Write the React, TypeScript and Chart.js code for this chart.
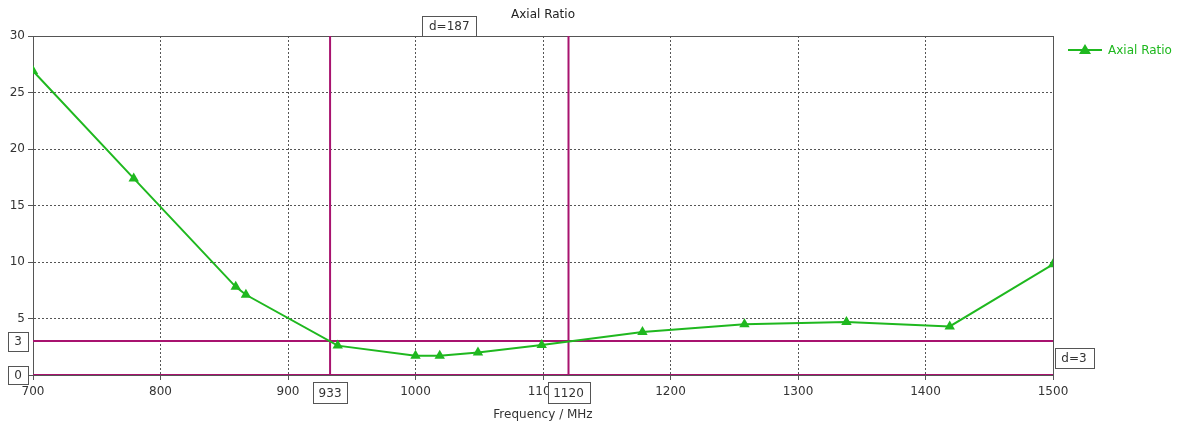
import React, { useEffect, useRef } from "react";
import { Chart, registerables } from "chart.js";

Chart.register(...registerables);

const frequency = [700, 779, 859, 867, 939, 1000, 1019, 1049, 1099, 1178, 1258, 1338, 1419, 1500];
const axialRatio = [26.9, 17.4, 7.8, 7.1, 2.6, 1.7, 1.7, 2.0, 2.65, 3.8, 4.5, 4.7, 4.3, 9.8];
const markerX = [933, 1120];
const markerY = [3, 0];
const xTicks = [700, 800, 900, 1000, 1100, 1200, 1300, 1400, 1500];
const yTicks = [0, 5, 10, 15, 20, 25, 30];

const GREEN = "#1FB81F";
const MAGENTA = "#A8136F";
const FONT = "DejaVu Sans";

function box(ctx: CanvasRenderingContext2D, cx: number, cy: number, text: string, w: number, h: number) {
  ctx.save();
  ctx.fillStyle = "#ffffff";
  ctx.fillRect(Math.round(cx - w / 2) + 0.5, Math.round(cy - h / 2) + 0.5, w, h);
  ctx.strokeStyle = "#555555";
  ctx.lineWidth = 1;
  ctx.strokeRect(Math.round(cx - w / 2) + 0.5, Math.round(cy - h / 2) + 0.5, w, h);
  ctx.fillStyle = "#333333";
  ctx.font = `12px "${FONT}"`;
  ctx.textAlign = "center";
  ctx.textBaseline = "middle";
  ctx.fillText(text, cx, cy + 1);
  ctx.restore();
}

const overlay = {
  id: "overlay",
  beforeDatasetsDraw(chart: any) {
    const { ctx, chartArea } = chart;
    ctx.save();
    ctx.strokeStyle = "#555555";
    ctx.lineWidth = 1;
    ctx.beginPath();
    ctx.moveTo(chartArea.left + 0.5, Math.round(chartArea.top) + 0.5);
    ctx.lineTo(Math.round(chartArea.right) + 0.5, Math.round(chartArea.top) + 0.5);
    ctx.lineTo(Math.round(chartArea.right) + 0.5, chartArea.bottom);
    ctx.stroke();
    ctx.beginPath();
    ctx.moveTo(Math.round(chartArea.left) + 0.5, chartArea.top);
    ctx.lineTo(Math.round(chartArea.left) + 0.5, chartArea.bottom);
    ctx.stroke();
    ctx.restore();
  },
  afterDraw(chart: any) {
    const { ctx, chartArea } = chart;
    const xs = chart.scales.x;
    const ys = chart.scales.y;
    ctx.save();
    // title
    ctx.fillStyle = "#222222";
    ctx.font = `12px "${FONT}"`;
    ctx.textAlign = "center";
    ctx.textBaseline = "middle";
    ctx.fillText("Axial Ratio", 543, 15);
    // axis title
    ctx.fillStyle = "#333333";
    ctx.fillText("Frequency / MHz", (chartArea.left + chartArea.right) / 2, 415);
    // legend
    const ly = 50;
    ctx.strokeStyle = GREEN;
    ctx.lineWidth = 2;
    ctx.beginPath();
    ctx.moveTo(1068, ly);
    ctx.lineTo(1102, ly);
    ctx.stroke();
    ctx.fillStyle = GREEN;
    ctx.beginPath();
    ctx.moveTo(1085, ly - 6);
    ctx.lineTo(1091, ly + 4);
    ctx.lineTo(1079, ly + 4);
    ctx.closePath();
    ctx.fill();
    ctx.textAlign = "left";
    ctx.fillText("Axial Ratio", 1108, ly + 1);
    ctx.restore();

    // marker boxes
    const x1 = xs.getPixelForValue(markerX[0]);
    const x2 = xs.getPixelForValue(markerX[1]);
    const y1 = ys.getPixelForValue(markerY[0]);
    const y2 = ys.getPixelForValue(markerY[1]);
    box(ctx, x1, 392.5, String(markerX[0]), 34, 21);
    box(ctx, x2, 392.5, String(markerX[1]), 42, 21);
    box(ctx, 18, y1, String(markerY[0]), 20, 19);
    box(ctx, 18, y2, String(markerY[1]), 20, 18);
    box(ctx, (x1 + x2) / 2, chartArea.top - 10, "d=" + (markerX[1] - markerX[0]), 54, 20);
    box(ctx, 1074, (y1 + y2) / 2, "d=" + (markerY[0] - markerY[1]), 39, 20);
  },
};

export default function App() {
  const ref = useRef<HTMLCanvasElement>(null);
  useEffect(() => {
    if (!ref.current) return;
    const chart = new Chart(ref.current, {
      type: "line",
      data: {
        datasets: [
          {
            label: "Axial Ratio",
            data: frequency.map((f, i) => ({ x: f, y: axialRatio[i] })),
            borderColor: GREEN,
            backgroundColor: GREEN,
            borderWidth: 2,
            pointStyle: "triangle",
            pointRadius: 6,
            pointBorderWidth: 0,
            tension: 0,
            order: 0,
          },
          ...markerX.map((m) => ({
            label: "mx" + m,
            data: [{ x: m, y: yTicks[0] }, { x: m, y: yTicks[yTicks.length - 1] }],
            borderColor: MAGENTA,
            borderWidth: 2,
            pointRadius: 0,
            order: 1,
          })),
          ...markerY.map((m) => ({
            label: "my" + m,
            data: [{ x: xTicks[0], y: m }, { x: xTicks[xTicks.length - 1], y: m }],
            borderColor: MAGENTA,
            borderWidth: 2,
            pointRadius: 0,
            order: 1,
          })),
        ],
      },
      options: {
        animation: false,
        responsive: false,
        layout: { padding: { top: 36, right: 124, left: 0, bottom: 0 } },
        plugins: { legend: { display: false }, title: { display: false }, tooltip: { enabled: false } },
        scales: {
          x: {
            type: "linear",
            min: xTicks[0],
            max: xTicks[xTicks.length - 1],
            afterBuildTicks: (s: any) => {
              s.ticks = xTicks.map((v) => ({ value: v }));
            },
            afterFit: (s: any) => {
              s.height = 49;
            },
            ticks: {
              color: "#333333",
              font: { family: FONT, size: 12 },
              padding: 5,
              maxRotation: 0,
              autoSkip: false,
              callback: (v: any) => String(v),
            },
            grid: { color: "#555555", tickLength: 5 },
            border: { display: true, color: "#555555", dash: [2, 2] },
          },
          y: {
            type: "linear",
            min: yTicks[0],
            max: yTicks[yTicks.length - 1],
            afterBuildTicks: (s: any) => {
              s.ticks = yTicks.map((v) => ({ value: v }));
            },
            afterFit: (s: any) => {
              s.width = 33;
            },
            ticks: { color: "#333333", font: { family: FONT, size: 12 }, padding: 3, callback: (v: any) => String(v) },
            grid: { color: "#555555", tickLength: 5 },
            border: { display: true, color: "#555555", dash: [2, 2] },
          },
        },
      },
      plugins: [overlay],
    } as any);
    return () => chart.destroy();
  }, []);
  return (
    <div style={{ position: "absolute", left: 0, top: 0, width: 1177, height: 424, background: "#fff" }}>
      <canvas ref={ref} width={1177} height={424} />
    </div>
  );
}
